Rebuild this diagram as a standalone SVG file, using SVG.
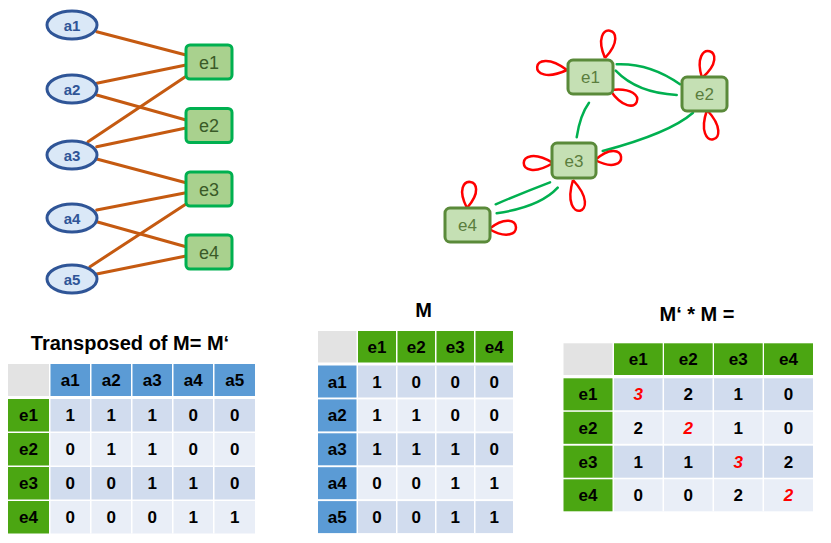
<svg xmlns="http://www.w3.org/2000/svg" width="831" height="543" viewBox="0 0 831 543">
<style>
.bg{fill:#ffffff}
.ed{stroke:#c55a11;stroke-width:3;fill:none;stroke-linecap:round}
.ge{stroke:#00b050;stroke-width:2.5;fill:none;stroke-linecap:round}
.lp{stroke:#ff0000;stroke-width:2.5;fill:none}
.an{fill:#dae8f7;stroke:#2f5597;stroke-width:3}
.at{font-family:"Liberation Sans",Arial,sans-serif;font-weight:bold;font-size:15px;fill:#2f5597;text-anchor:middle}
.en{fill:#a9d18e;stroke:#00b050;stroke-width:3}
.et{font-family:"Liberation Sans",Arial,sans-serif;font-size:18px;fill:#3a5a28;text-anchor:middle}
.gn{fill:#c5e0b4;stroke:#5a8a3a;stroke-width:3}
.gt{font-family:"Liberation Sans",Arial,sans-serif;font-size:17px;fill:#5a7d3d;text-anchor:middle}
.ttl{font-family:"Liberation Sans",Arial,sans-serif;font-weight:bold;font-size:20px;fill:#000;text-anchor:middle}
.ct{font-family:"Liberation Sans",Arial,sans-serif;font-weight:bold;font-size:17px;fill:#000;text-anchor:middle}
.rd{fill:#ff0000;font-style:italic}
.cg{fill:#e3e3e3}
.cb{fill:#5b9bd5}
.cn{fill:#4ba612}
.d1{fill:#d1dcee}
.d2{fill:#e9eef7}
</style>
<rect class="bg" x="0" y="0" width="831" height="543"/>

<g id="connectors">
  <line class="ed" x1="96.7" y1="31.7" x2="186" y2="55"/>
  <line class="ed" x1="96.7" y1="83.3" x2="186" y2="65"/>
  <line class="ed" x1="96.7" y1="95" x2="186" y2="120"/>
  <line class="ed" x1="88" y1="141.7" x2="188" y2="75"/>
  <line class="ed" x1="96.7" y1="146.7" x2="186" y2="128"/>
  <line class="ed" x1="96.7" y1="159" x2="186" y2="182.7"/>
  <line class="ed" x1="96.7" y1="210" x2="186" y2="192.7"/>
  <line class="ed" x1="96.7" y1="221.7" x2="186" y2="246.7"/>
  <line class="ed" x1="90" y1="266.7" x2="188" y2="202.7"/>
  <line class="ed" x1="96.7" y1="274" x2="186" y2="256"/>

  <path class="ge" d="M616.7,64.3 Q650,63 680,84.3"/>
  <path class="ge" d="M615.7,70.7 Q637,93 676.7,95"/>
  <path class="ge" d="M589,102.7 Q580,115 576.7,137.3"/>
  <path class="ge" d="M693,112.7 Q670,133 602.7,151"/>
  <path class="ge" d="M550,182.3 Q522,193 495.7,204.3"/>
  <path class="ge" d="M557.7,187.7 Q540,207 496.7,213.3"/>

  <path class="lp" d="M0,0 C-24,-37 24,-37 0,0" transform="translate(605,58) rotate(10)"/>
  <path class="lp" d="M0,0 C-24,-40 24,-40 0,0" transform="translate(567,70) rotate(-84)"/>
  <path class="lp" d="M0,0 C-24,-39 24,-39 0,0" transform="translate(610,90) rotate(114)"/>
  <path class="lp" d="M0,0 C-24,-37 24,-37 0,0" transform="translate(702,78) rotate(16)"/>
  <path class="lp" d="M0,0 C-24,-40 24,-40 0,0" transform="translate(707,110) rotate(168)"/>
  <path class="lp" d="M0,0 C-24,-39 24,-39 0,0" transform="translate(553,163) rotate(-90)"/>
  <path class="lp" d="M0,0 C-24,-35 24,-35 0,0" transform="translate(595,160) rotate(83)"/>
  <path class="lp" d="M0,0 C-24,-42 24,-42 0,0" transform="translate(573,180) rotate(167)"/>
  <path class="lp" d="M0,0 C-24,-35 24,-35 0,0" transform="translate(467,208) rotate(7)"/>
  <path class="lp" d="M0,0 C-24,-36 24,-36 0,0" transform="translate(489,229) rotate(86)"/>
</g>

<g id="a1"><ellipse class="an" cx="72" cy="25" rx="25" ry="14"/><text class="at" x="72" y="30.5">a1</text></g>
<g id="a2"><ellipse class="an" cx="72" cy="89" rx="25" ry="14"/><text class="at" x="72" y="94.5">a2</text></g>
<g id="a3"><ellipse class="an" cx="72" cy="155" rx="25" ry="14"/><text class="at" x="72" y="160.5">a3</text></g>
<g id="a4"><ellipse class="an" cx="72" cy="218" rx="25" ry="14"/><text class="at" x="72" y="223.5">a4</text></g>
<g id="a5"><ellipse class="an" cx="72" cy="279" rx="25" ry="14"/><text class="at" x="72" y="284.5">a5</text></g>

<g id="be1"><rect class="en" x="186" y="45" width="46" height="34" rx="4"/><text class="et" x="209" y="68.5">e1</text></g>
<g id="be2"><rect class="en" x="186" y="108.5" width="46" height="34" rx="4"/><text class="et" x="209" y="132">e2</text></g>
<g id="be3"><rect class="en" x="186" y="172" width="46" height="34" rx="4"/><text class="et" x="209" y="195.5">e3</text></g>
<g id="be4"><rect class="en" x="186" y="235" width="46" height="34" rx="4"/><text class="et" x="209" y="258.5">e4</text></g>

<g id="ge1"><rect class="gn" x="568" y="60" width="45" height="34" rx="5"/><text class="gt" x="590.5" y="83">e1</text></g>
<g id="ge2"><rect class="gn" x="682" y="77" width="45" height="34" rx="5"/><text class="gt" x="704.5" y="100">e2</text></g>
<g id="ge3"><rect class="gn" x="552" y="143" width="44" height="35" rx="5"/><text class="gt" x="574" y="166.5">e3</text></g>
<g id="ge4"><rect class="gn" x="445" y="208" width="45" height="34" rx="5"/><text class="gt" x="467.5" y="231">e4</text></g>

<g id="table-mt">
  <text class="ttl" x="130" y="350">Transposed of M= M‘</text>
  <rect class="cg" x="8" y="364" width="41" height="32"/>
  <rect class="cb" x="50.5" y="364" width="39.5" height="32"/>
  <rect class="cb" x="91.5" y="364" width="39.5" height="32"/>
  <rect class="cb" x="132.5" y="364" width="39.5" height="32"/>
  <rect class="cb" x="173.5" y="364" width="39.5" height="32"/>
  <rect class="cb" x="214.5" y="364" width="40.5" height="32"/>
  <text class="ct" x="70.25" y="386">a1</text><text class="ct" x="111.25" y="386">a2</text><text class="ct" x="152.25" y="386">a3</text><text class="ct" x="193.25" y="386">a4</text><text class="ct" x="234.75" y="386">a5</text>

  <rect class="cn" x="8" y="399" width="41" height="32.5"/>
  <rect class="d1" x="50.5" y="399" width="204.5" height="32.5"/>
  <rect class="cn" x="8" y="433" width="41" height="32.5"/>
  <rect class="d2" x="50.5" y="433" width="204.5" height="32.5"/>
  <rect class="cn" x="8" y="467" width="41" height="32.5"/>
  <rect class="d1" x="50.5" y="467" width="204.5" height="32.5"/>
  <rect class="cn" x="8" y="501" width="41" height="32.5"/>
  <rect class="d2" x="50.5" y="501" width="204.5" height="32.5"/>
  <g stroke="#ffffff" stroke-width="1.5">
    <line x1="90.75" y1="399" x2="90.75" y2="533.5"/>
    <line x1="131.75" y1="399" x2="131.75" y2="533.5"/>
    <line x1="172.75" y1="399" x2="172.75" y2="533.5"/>
    <line x1="213.75" y1="399" x2="213.75" y2="533.5"/>
  </g>
  <text class="ct" x="28.5" y="421">e1</text><text class="ct" x="70.25" y="421">1</text><text class="ct" x="111.25" y="421">1</text><text class="ct" x="152.25" y="421">1</text><text class="ct" x="193.25" y="421">0</text><text class="ct" x="234.75" y="421">0</text>
  <text class="ct" x="28.5" y="455">e2</text><text class="ct" x="70.25" y="455">0</text><text class="ct" x="111.25" y="455">1</text><text class="ct" x="152.25" y="455">1</text><text class="ct" x="193.25" y="455">0</text><text class="ct" x="234.75" y="455">0</text>
  <text class="ct" x="28.5" y="489">e3</text><text class="ct" x="70.25" y="489">0</text><text class="ct" x="111.25" y="489">0</text><text class="ct" x="152.25" y="489">1</text><text class="ct" x="193.25" y="489">1</text><text class="ct" x="234.75" y="489">0</text>
  <text class="ct" x="28.5" y="523">e4</text><text class="ct" x="70.25" y="523">0</text><text class="ct" x="111.25" y="523">0</text><text class="ct" x="152.25" y="523">0</text><text class="ct" x="193.25" y="523">1</text><text class="ct" x="234.75" y="523">1</text>
</g>

<g id="table-m">
  <text class="ttl" x="423.5" y="317">M</text>
  <rect class="cg" x="318" y="331" width="38.5" height="31.5"/>
  <rect class="cn" x="358" y="331" width="38" height="31.5"/>
  <rect class="cn" x="397.5" y="331" width="37.5" height="31.5"/>
  <rect class="cn" x="436.5" y="331" width="37.5" height="31.5"/>
  <rect class="cn" x="475.5" y="331" width="37.5" height="31.5"/>
  <text class="ct" x="377" y="352.5">e1</text><text class="ct" x="416.25" y="352.5">e2</text><text class="ct" x="455.25" y="352.5">e3</text><text class="ct" x="494.25" y="352.5">e4</text>

  <rect class="cb" x="318" y="365.5" width="38.5" height="32"/>
  <rect class="d1" x="358" y="365.5" width="155" height="32"/>
  <rect class="cb" x="318" y="399.4" width="38.5" height="32"/>
  <rect class="d2" x="358" y="399.4" width="155" height="32"/>
  <rect class="cb" x="318" y="433.3" width="38.5" height="32"/>
  <rect class="d1" x="358" y="433.3" width="155" height="32"/>
  <rect class="cb" x="318" y="467.2" width="38.5" height="32"/>
  <rect class="d2" x="358" y="467.2" width="155" height="32"/>
  <rect class="cb" x="318" y="501.1" width="38.5" height="32"/>
  <rect class="d1" x="358" y="501.1" width="155" height="32"/>
  <g stroke="#ffffff" stroke-width="1.5">
    <line x1="396.75" y1="365.5" x2="396.75" y2="533.1"/>
    <line x1="435.75" y1="365.5" x2="435.75" y2="533.1"/>
    <line x1="474.75" y1="365.5" x2="474.75" y2="533.1"/>
  </g>
  <text class="ct" x="337.25" y="387.5">a1</text><text class="ct" x="377" y="387.5">1</text><text class="ct" x="416.25" y="387.5">0</text><text class="ct" x="455.25" y="387.5">0</text><text class="ct" x="494.25" y="387.5">0</text>
  <text class="ct" x="337.25" y="421.4">a2</text><text class="ct" x="377" y="421.4">1</text><text class="ct" x="416.25" y="421.4">1</text><text class="ct" x="455.25" y="421.4">0</text><text class="ct" x="494.25" y="421.4">0</text>
  <text class="ct" x="337.25" y="455.3">a3</text><text class="ct" x="377" y="455.3">1</text><text class="ct" x="416.25" y="455.3">1</text><text class="ct" x="455.25" y="455.3">1</text><text class="ct" x="494.25" y="455.3">0</text>
  <text class="ct" x="337.25" y="489.2">a4</text><text class="ct" x="377" y="489.2">0</text><text class="ct" x="416.25" y="489.2">0</text><text class="ct" x="455.25" y="489.2">1</text><text class="ct" x="494.25" y="489.2">1</text>
  <text class="ct" x="337.25" y="523.1">a5</text><text class="ct" x="377" y="523.1">0</text><text class="ct" x="416.25" y="523.1">0</text><text class="ct" x="455.25" y="523.1">1</text><text class="ct" x="494.25" y="523.1">1</text>
</g>

<g id="table-product">
  <text class="ttl" x="697" y="321">M‘ * M =</text>
  <rect class="cg" x="563.5" y="343.3" width="49" height="31.7"/>
  <rect class="cn" x="614" y="343.3" width="48.7" height="31.7"/>
  <rect class="cn" x="664" y="343.3" width="48.7" height="31.7"/>
  <rect class="cn" x="714" y="343.3" width="48.7" height="31.7"/>
  <rect class="cn" x="764" y="343.3" width="49" height="31.7"/>
  <text class="ct" x="638.25" y="365">e1</text><text class="ct" x="688.25" y="365">e2</text><text class="ct" x="738.25" y="365">e3</text><text class="ct" x="788.5" y="365">e4</text>

  <rect class="cn" x="563.5" y="378.3" width="49" height="32"/>
  <rect class="d1" x="614" y="378.3" width="199" height="32"/>
  <rect class="cn" x="563.5" y="411.8" width="49" height="32"/>
  <rect class="d2" x="614" y="411.8" width="199" height="32"/>
  <rect class="cn" x="563.5" y="445.7" width="49" height="32"/>
  <rect class="d1" x="614" y="445.7" width="199" height="32"/>
  <rect class="cn" x="563.5" y="479.3" width="49" height="32"/>
  <rect class="d2" x="614" y="479.3" width="199" height="32"/>
  <g stroke="#ffffff" stroke-width="1.5">
    <line x1="663.3" y1="378.3" x2="663.3" y2="511.3"/>
    <line x1="713.3" y1="378.3" x2="713.3" y2="511.3"/>
    <line x1="763.3" y1="378.3" x2="763.3" y2="511.3"/>
  </g>
  <text class="ct" x="588" y="400.3">e1</text><text class="ct rd" x="638.25" y="400.3">3</text><text class="ct" x="688.25" y="400.3">2</text><text class="ct" x="738.25" y="400.3">1</text><text class="ct" x="788.5" y="400.3">0</text>
  <text class="ct" x="588" y="433.8">e2</text><text class="ct" x="638.25" y="433.8">2</text><text class="ct rd" x="688.25" y="433.8">2</text><text class="ct" x="738.25" y="433.8">1</text><text class="ct" x="788.5" y="433.8">0</text>
  <text class="ct" x="588" y="467.7">e3</text><text class="ct" x="638.25" y="467.7">1</text><text class="ct" x="688.25" y="467.7">1</text><text class="ct rd" x="738.25" y="467.7">3</text><text class="ct" x="788.5" y="467.7">2</text>
  <text class="ct" x="588" y="501.3">e4</text><text class="ct" x="638.25" y="501.3">0</text><text class="ct" x="688.25" y="501.3">0</text><text class="ct" x="738.25" y="501.3">2</text><text class="ct rd" x="788.5" y="501.3">2</text>
</g>
</svg>
